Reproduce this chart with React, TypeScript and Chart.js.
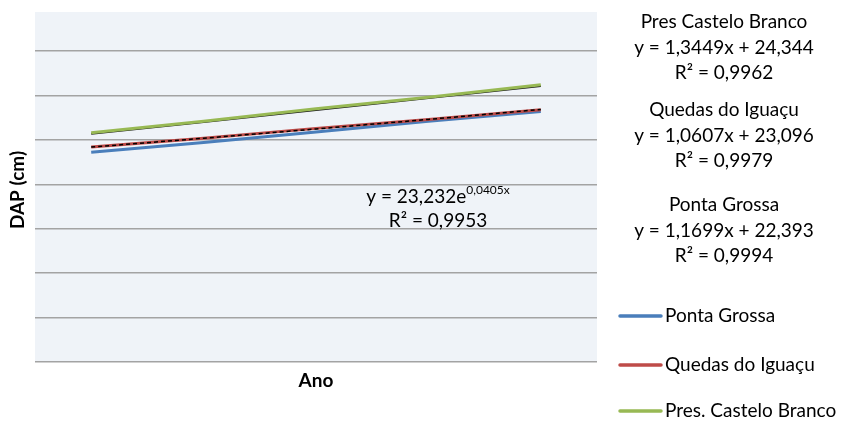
import React, { useEffect, useRef } from "react";
import { Chart, registerables } from "chart.js";

Chart.register(...registerables);

// Measurement years (x) and mean DAP (cm) per site
const anos = ["1", "2", "3", "4", "5"];
const pontaGrossa = [23.6, 24.7, 25.9, 27.1, 28.2];
const quedasIguacu = [24.2, 25.2, 26.3, 27.3, 28.4];
const casteloBranco = [25.8, 27.1, 28.5, 29.8, 31.2];

// Fitted trend lines
const tendenciaCastelo = [25.69, 27.03, 28.38, 29.72, 31.07];
const tendenciaExp = [24.19, 25.19, 26.23, 27.31, 28.43];

const yTicks = [0, 5, 10, 15, 20, 25, 30, 35];

const equacoes = [
  ["Pres Castelo Branco", "y = 1,3449x + 24,344", "R² = 0,9962"],
  ["Quedas do Iguaçu", "y = 1,0607x + 23,096", "R² = 0,9979"],
  ["Ponta Grossa", "y = 1,1699x + 22,393", "R² = 0,9994"],
];

const FONT = "Lato, 'Noto Sans', sans-serif";

const overlay = {
  id: "overlay",
  beforeDraw(chart: any) {
    const { ctx, chartArea: a } = chart;
    ctx.save();
    ctx.fillStyle = "#eff3f8";
    ctx.fillRect(a.left, a.top, a.right - a.left, a.bottom - a.top);
    ctx.restore();
  },
  afterDraw(chart: any) {
    const { ctx } = chart;
    ctx.save();
    ctx.fillStyle = "#000";
    ctx.textBaseline = "middle";

    // Axis titles
    ctx.font = `bold 19px ${FONT}`;
    ctx.textAlign = "center";
    ctx.fillText("Ano", 316, 381);
    ctx.save();
    ctx.translate(18, 190);
    ctx.rotate(-Math.PI / 2);
    ctx.fillText("DAP (cm)", 0, 0);
    ctx.restore();

    // Regression equations on the right
    ctx.font = `19px ${FONT}`;
    const blockY = [22, 110, 205];
    equacoes.forEach((linhas, i) => {
      linhas.forEach((t, j) => {
        ctx.fillText(t, 724, blockY[i] + j * 25.5);
      });
    });

    // Exponential fit label
    const cx = 438;
    const base = "y = 23,232e";
    ctx.font = `19px ${FONT}`;
    const wBase = ctx.measureText(base).width;
    ctx.font = `12px ${FONT}`;
    const sup = "0,0405x";
    const wSup = ctx.measureText(sup).width;
    const start = cx - (wBase + wSup) / 2;
    ctx.textAlign = "left";
    ctx.font = `19px ${FONT}`;
    ctx.fillText(base, start, 197);
    ctx.font = `12px ${FONT}`;
    ctx.fillText(sup, start + wBase, 190);
    ctx.textAlign = "center";
    ctx.font = `19px ${FONT}`;
    ctx.fillText("R² = 0,9953", 438, 221);

    // Legend
    const items = chart.data.datasets.filter((d: any) => !d.hideLegend);
    const legY = [316, 365, 411];
    ctx.textAlign = "left";
    ctx.font = `19px ${FONT}`;
    items.forEach((d: any, i: number) => {
      ctx.strokeStyle = d.borderColor;
      ctx.lineWidth = 3.5;
      ctx.lineCap = "round";
      ctx.beginPath();
      ctx.moveTo(620, legY[i]);
      ctx.lineTo(661, legY[i]);
      ctx.stroke();
      ctx.fillText(d.label, 665, legY[i]);
    });
    ctx.restore();
  },
};

export default function App() {
  const ref = useRef<HTMLCanvasElement | null>(null);

  useEffect(() => {
    if (!ref.current) return;
    const chart = new Chart(ref.current, {
      type: "line",
      data: {
        labels: anos,
        datasets: [
          {
            label: "Tendência Castelo",
            data: tendenciaCastelo,
            borderColor: "#1a1a1a",
            borderWidth: 2,
            pointRadius: 0,
            hideLegend: true,
            order: 5,
          } as any,
          {
            label: "Ponta Grossa",
            data: pontaGrossa,
            borderColor: "#4a7ebb",
            borderWidth: 3,
            pointRadius: 0,
            order: 4,
          },
          {
            label: "Quedas do Iguaçu",
            data: quedasIguacu,
            borderColor: "#be4b48",
            borderWidth: 3,
            pointRadius: 0,
            order: 3,
          },
          {
            label: "Pres. Castelo Branco",
            data: casteloBranco,
            borderColor: "#98b954",
            borderWidth: 3,
            pointRadius: 0,
            order: 2,
          },
          {
            label: "Tendência exponencial",
            data: tendenciaExp,
            borderColor: "#000",
            borderWidth: 1.5,
            borderDash: [4, 3],
            pointRadius: 0,
            hideLegend: true,
            order: 1,
          } as any,
        ],
      },
      options: {
        responsive: false,
        animation: false,
        layout: { padding: { left: 35, right: 244, top: 12, bottom: 61 } },
        plugins: { legend: { display: false }, tooltip: { enabled: false } },
        scales: {
          x: {
            display: false,
            offset: true,
          },
          y: {
            min: 0,
            max: 39.4,
            border: { display: false },
            ticks: { display: false },
            grid: { color: "#a3a3a3", lineWidth: 1.5, drawTicks: false },
            afterBuildTicks: (s: any) => {
              s.ticks = yTicks.map((v) => ({ value: v }));
            },
          },
        },
      },
      plugins: [overlay],
    });
    return () => chart.destroy();
  }, []);

  return (
    <div style={{ position: "fixed", left: 0, top: 0, width: 841, height: 423, background: "#fff" }}>
      <canvas ref={ref} width={841} height={423} />
    </div>
  );
}
